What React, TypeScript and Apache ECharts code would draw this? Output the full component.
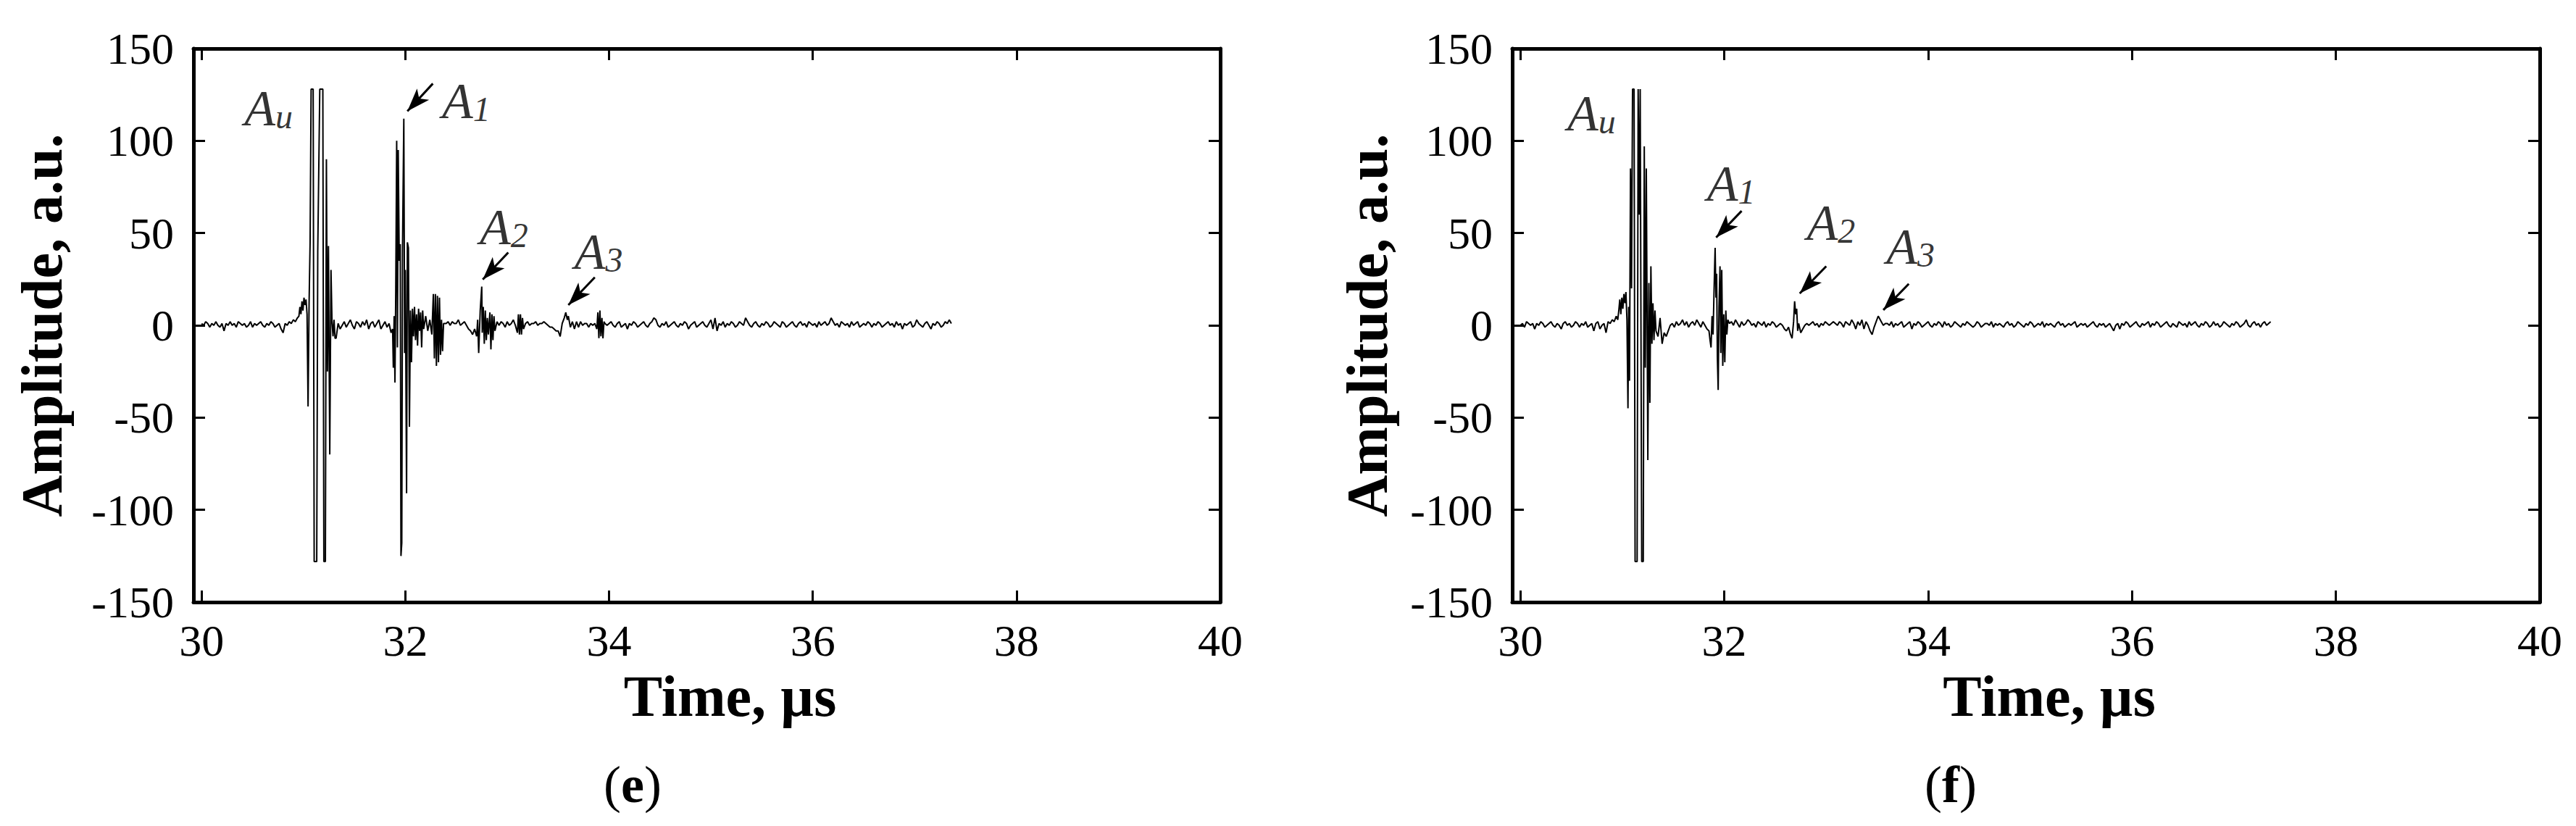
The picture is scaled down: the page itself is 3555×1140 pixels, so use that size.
import React, { useEffect, useRef } from 'react';
import * as echarts from 'echarts';

// ---------- axes ----------
const TIME_MIN = 29.92;
const TIME_MAX = 40;
const timeTicks = [30, 32, 34, 36, 38, 40];
const AMP_MIN = -150;
const AMP_MAX = 150;
const AMP_STEP = 50;
const SAMPLE_STEP = 0.02; // µs, spacing of the quiet (noise) stretches

// ---------- panel (e) ----------
const eLeadStart = 30.0;
const eLead = [1, 0, 2, 1, -1, 1, 0, 2, 0, -1, 1, -3, 1, 0, 2, 0, 1, -1, 2, 1, 0, 1, -1, 0, 2, -1, 1, 0, 1, 2, 0, -1, 1, 0, 2, 1, -1, 0, 1, -2, -4, 1, 0, 2, 1, 3, 2, 4];
const eAu: [number, number][] = [
  [30.955, 5], [30.965, 10], [30.975, 6], [30.985, 13], [30.995, 8], [31.005, 15], [31.015, 11], [31.025, 14], [31.035, 6],
  [31.045, -44], [31.055, 12], [31.065, 45], [31.075, 128], [31.095, 128], [31.105, -128], [31.13, -128], [31.14, 40],
  [31.16, 128], [31.19, 128], [31.2, -128], [31.215, -128], [31.225, 90], [31.235, -25], [31.245, 43], [31.258, -70],
  [31.27, 30], [31.28, 2], [31.29, -6], [31.3, 3], [31.31, -7], [31.32, -7], [31.33, -3], [31.34, 1],
];
const eGap1Start = 31.36;
const eGap1 = [-2, 0, 2, -1, 1, 3, 0, -2, 2, 1, -1, 2, 0, 3, -2, 1, 2, -1, 1, 3, -2, 0, 2, -1, 1, -4];
const eA1: [number, number][] = [
  [31.875, -2], [31.882, -23], [31.89, 5], [31.898, -31], [31.906, 20], [31.915, 100], [31.922, -12], [31.93, 95],
  [31.94, 35], [31.95, 44], [31.957, -125], [31.965, -118], [31.972, 40], [31.985, 112], [31.993, -15], [32.0, 30],
  [32.012, -91], [32.02, 45], [32.03, 42], [32.04, -55], [32.05, 8], [32.06, -20], [32.07, 9], [32.08, -6], [32.09, 10],
  [32.1, -8], [32.11, 6], [32.12, -11], [32.13, 9], [32.14, -3], [32.15, 7], [32.16, -12], [32.17, 8], [32.18, -2],
  [32.2, 5], [32.22, -3], [32.24, 3], [32.26, -5], [32.275, 17], [32.285, -18], [32.295, 17], [32.305, -22],
  [32.315, 16], [32.325, -20], [32.335, 15], [32.345, -16], [32.355, 3], [32.365, -14], [32.375, 1],
];
const eGap2Start = 32.4;
const eGap2 = [1, 2, 0, 2, 1, 1, 3, 0, 1, 2, 0, -2, -3, -5, -2];
const eA2: [number, number][] = [
  [32.7, -6], [32.71, 3], [32.72, -15], [32.735, 8], [32.75, 21], [32.755, -4], [32.765, 10], [32.775, -10],
  [32.785, 8], [32.795, -8], [32.805, 4], [32.815, -5], [32.83, 7], [32.84, -13], [32.85, 6], [32.86, -8],
  [32.87, 5], [32.88, -3], [32.9, 2], [32.92, 0],
];
const eGap3Start = 32.94;
const eGap3 = [2, 1, -1, 2, 0, 1, 3, 0];
const eA3: [number, number][] = [
  [33.1, -4], [33.11, 6], [33.12, -5], [33.13, 6], [33.14, -5], [33.15, 4], [33.16, -2], [33.18, 1], [33.2, 2],
  [33.22, 0], [33.24, 1], [33.26, 1], [33.28, 2], [33.3, 0], [33.32, 1], [33.34, 1], [33.36, 2], [33.38, 1],
  [33.4, 0], [33.42, -1], [33.44, -1], [33.46, -2], [33.48, -3], [33.5, -3], [33.52, -6], [33.54, 1], [33.56, 4],
  [33.575, 7], [33.59, 3], [33.6, 5], [33.62, -1], [33.64, 2], [33.66, -2], [33.68, 2], [33.7, -1], [33.72, 2],
  [33.74, 0], [33.76, 1], [33.78, 1], [33.8, -1], [33.82, 1], [33.84, 0], [33.86, 1], [33.88, -2], [33.89, 7],
  [33.9, -7], [33.91, 8], [33.92, -6], [33.93, 4], [33.94, -7], [33.95, 2], [33.96, 1], [33.98, 0], [34.0, 1],
];
const eTailStart = 34.02;
const eTail = [
  2, 0, -1, 1, 2, -1, 0, 1, -2, 1,
  0, 2, 1, -1, 0, 1, 2, 0, -1, 1,
  2, 4, 3, 0, -1, 1, 0, 2, -1, 0,
  1, 2, 0, -1, 1, 0, 2, 1, -2, 0,
  1, 2, -1, 0, 1, 2, 0, -1, 1, 3,
  -2, 4, -3, 1, 0, 2, -1, 1, 0, 2,
  1, -1, 0, 2, 1, 0, 4, 2, 0, -1,
  1, 2, 0, -1, 1, 0, 2, 1, -1, 0,
  2, 1, 0, -1, 2, 1, -1, 0, 1, 2,
  0, -1, 1, 2, 0, 1, -1, 2, 1, 0,
  1, -1, 2, 0, 1, 2, 0, 1, 4, 2,
  0, 1, -1, 2, 1, 0, 1, -1, 2, 0,
  1, 2, -1, 0, 1, 0, 2, 1, -1, 1,
  0, 2, 1, -1, 0, 1, 2, 0, 1, -1,
  2, 0, 1, -2, 1, 0, 1, 2, -1, 0,
  3, 1, 0, -1, 1, 2, 0, -2, 1, 0,
  2, 1, -1, 0, 2, 1, 3, 1,
];

// ---------- panel (f) ----------
const fLeadStart = 30.0;
const fLead = [0, 1, -1, 2, 1, 0, 1, -2, 1, 0, 2, 1, -1, 0, 1, 2, 0, -1, 1, 0, -2, 1, 2, 0, 1, -1, 0, 2, 1, -1, 1, 0, 2, -1, 0, 1, -3, 1, 2, -2, 0, 1, -4, 2, 1, 3, 2, 5];
const fAu: [number, number][] = [
  [30.955, 3], [30.965, 8], [30.975, 14], [30.985, 6], [30.995, 15], [31.005, 9], [31.015, 17], [31.025, 12],
  [31.035, 18], [31.045, 3], [31.055, -45], [31.062, 10], [31.07, -30], [31.08, 85], [31.09, 20], [31.1, 128],
  [31.115, 128], [31.125, -128], [31.145, -128], [31.155, 128], [31.165, 60], [31.175, 128], [31.19, -128],
  [31.205, -128], [31.215, 97], [31.225, -23], [31.235, 85], [31.25, -73], [31.26, 23], [31.27, -42], [31.28, 32],
  [31.29, -10], [31.3, 12], [31.31, -8], [31.32, 8], [31.33, -3], [31.35, -6], [31.37, 4], [31.39, -10], [31.41, -4], [31.43, -6],
];
const fGap1Start = 31.45;
const fGap1 = [-3, 0, 1, -1, 2, 0, 1, 3, 0, 2, -1, 1, 2, 0, 3, 1, -1, 2, 0, -2];
const fA1: [number, number][] = [
  [31.85, -3], [31.86, -8], [31.87, -12], [31.88, 5], [31.89, -5], [31.9, 20], [31.91, 42], [31.918, 15],
  [31.925, 28], [31.932, -17], [31.94, -35], [31.948, 10], [31.958, 32], [31.966, -15], [31.975, 30],
  [31.985, -22], [31.995, 6], [32.005, -20], [32.015, 8], [32.025, -5], [32.035, 3], [32.05, 1],
];
const fGap2Start = 32.07;
const fGap2 = [2, 0, 3, 1, -1, 2, 0, 1, 3, 2, 0, 1, -1, 2, 1, 0, 2, -1, 1, 0, 2, 1, -1, 0, 1, 0, -2, -3, -1];
const fA2: [number, number][] = [
  [32.65, -5], [32.665, -7], [32.68, 2], [32.69, 13], [32.7, 6], [32.71, 9], [32.72, -3], [32.73, 1],
  [32.75, -4], [32.77, -2], [32.79, 0],
];
const fGap3Start = 32.81;
const fGap3 = [1, 0, 1, 2, 0, 1, -1, 1, 0, 2, 1, 0, 1, 2, 1, 0, 2, 1, -1, 2, 1, 0, 3, 1, -2, 2, 0, 3, -2, 2, 0];
const fA3: [number, number][] = [
  [33.43, -3], [33.45, -5], [33.47, -1], [33.49, 2], [33.51, 5], [33.52, 4], [33.54, 2], [33.56, 0], [33.58, 1],
];
const fTailStart = 33.6;
const fTail = [
  1, 0, 2, -1, 1, 0, 1, 2, -1, 0,
  1, 2, -2, 1, 0, 2, 1, -1, 0, 1,
  2, 0, -1, 1, 0, 2, 1, -1, 2, 0,
  1, -1, 0, 2, 1, 0, -1, 1, 0, 2,
  1, 0, -1, 0, 2, 1, -1, 0, 1, 1,
  0, 2, -1, 1, 0, 1, 0, -1, 1, 2,
  0, 1, -1, 0, 2, 1, 0, -1, 1, 0,
  2, 1, -1, 0, 1, 0, 2, -1, 1, 0,
  1, 0, -1, 1, 2, 0, 1, -1, 0, 1,
  0, 1, 2, -1, 0, 1, 0, 1, -1, 0,
  1, 2, 0, -1, 1, 0, 1, -1, 0, 1,
  -1, -3, 0, 1, -2, 1, 0, 2, 1, -1,
  0, 1, 2, 0, -1, 1, 0, 1, 2, -1,
  1, 0, 2, 1, -1, 0, 1, 2, 0, -1,
  1, 0, -1, 2, 1, 0, 1, -1, 2, 0,
  1, 2, 0, -1, 1, 0, 2, 1, -1, 0,
  2, 0, 1, -1, 0, 2, 1, 0, -1, 1,
  0, 2, 1, -1, 0, 1, 3, 0, -1, 1,
  2, 0, 1, -1, 1, 2, 0, 1, 2,
];

// ---------- annotations ----------
const echoSubscripts = ['u', '1', '2', '3'];
const eLabelAnchors: [number, number][] = [[30.42, 123], [32.36, 127], [32.73, 58.5], [33.66, 45]];
const fLabelAnchors: [number, number][] = [[30.46, 120], [31.83, 82], [32.81, 61], [33.59, 48]];
// arrows: [tail, tip]
const eArrows: [[number, number], [number, number]][] = [
  [[32.27, 131], [32.02, 116]],
  [[33.01, 39.5], [32.76, 24.8]],
  [[33.86, 26], [33.6, 11]],
];
const fArrows: [[number, number], [number, number]][] = [
  [[32.17, 62], [31.92, 47.6]],
  [[33.0, 32], [32.74, 17.3]],
  [[33.81, 22.5], [33.56, 8.3]],
];
const panelCaptions = ['e', 'f'];

// ---------- build ----------
const sampled = (start: number, vals: number[]): [number, number][] =>
  vals.map((v, i) => [Number((start + i * SAMPLE_STEP).toFixed(3)), v]);

const waveE: [number, number][] = [
  ...sampled(eLeadStart, eLead), ...eAu, ...sampled(eGap1Start, eGap1), ...eA1,
  ...sampled(eGap2Start, eGap2), ...eA2, ...sampled(eGap3Start, eGap3), ...eA3, ...sampled(eTailStart, eTail),
];
const waveF: [number, number][] = [
  ...sampled(fLeadStart, fLead), ...fAu, ...sampled(fGap1Start, fGap1), ...fA1,
  ...sampled(fGap2Start, fGap2), ...fA2, ...sampled(fGap3Start, fGap3), ...fA3, ...sampled(fTailStart, fTail),
];

const FONT = "'Liberation Serif', 'Times New Roman', serif";
const BLACK = '#000';

const grids = [
  { left: 267, top: 67, width: 1417, height: 764 },
  { left: 2087, top: 67, width: 1418, height: 764 },
];
const yNameGaps = [169, 160];

function xAxes(gridIndex: number) {
  const common = {
    type: 'value',
    gridIndex,
    min: TIME_MIN,
    max: TIME_MAX,
    splitLine: { show: false },
    axisLine: { show: true, onZero: false, lineStyle: { color: BLACK, width: 5 } },
    axisTick: { show: true, inside: true, length: 16, customValues: timeTicks, lineStyle: { color: BLACK, width: 3 } },
  };
  return [
    {
      ...common,
      position: 'bottom',
      name: 'Time, µs',
      nameLocation: 'middle',
      nameGap: 90,
      nameTextStyle: { fontFamily: FONT, fontSize: 80, fontWeight: 'bold', color: BLACK, padding: [0, 0, 0, 64] },
      axisLabel: { show: true, customValues: timeTicks, margin: 22, fontFamily: FONT, fontSize: 62, color: BLACK },
    },
    { ...common, position: 'top', axisLabel: { show: false } },
  ];
}

function yAxes(gridIndex: number) {
  const common = {
    type: 'value',
    gridIndex,
    min: AMP_MIN,
    max: AMP_MAX,
    interval: AMP_STEP,
    splitLine: { show: false },
    axisLine: { show: true, onZero: false, lineStyle: { color: BLACK, width: 5 } },
    axisTick: { show: true, inside: true, length: 16, lineStyle: { color: BLACK, width: 3 } },
  };
  return [
    {
      ...common,
      position: 'left',
      name: 'Amplitude, a.u.',
      nameLocation: 'middle',
      nameRotate: 90,
      nameGap: yNameGaps[gridIndex],
      nameTextStyle: { fontFamily: FONT, fontSize: 80, fontWeight: 'bold', color: BLACK },
      axisLabel: { show: true, margin: 27, fontFamily: FONT, fontSize: 62, color: BLACK },
    },
    { ...common, position: 'right', axisLabel: { show: false } },
  ];
}

const labelRich = {
  a: { fontFamily: FONT, fontStyle: 'italic', fontSize: 70, lineHeight: 97, verticalAlign: 'bottom', color: BLACK },
  s: { fontFamily: FONT, fontStyle: 'italic', fontSize: 48, lineHeight: 48, verticalAlign: 'bottom', color: BLACK },
};

function panelSeries(idx: number, wave: [number, number][], anchors: [number, number][], arrows: [[number, number], [number, number]][]) {
  const xi = idx * 2;
  const yi = idx * 2;
  return [
    {
      type: 'line',
      xAxisIndex: xi,
      yAxisIndex: yi,
      data: wave,
      showSymbol: false,
      symbol: 'none',
      lineStyle: { color: BLACK, width: 2 },
      clip: true,
      silent: true,
    },
    {
      type: 'scatter',
      xAxisIndex: xi,
      yAxisIndex: yi,
      symbolSize: 0,
      silent: true,
      data: anchors.map((p, i) => ({ value: p, name: echoSubscripts[i] })),
      label: {
        show: true,
        position: 'right',
        distance: 0,
        formatter: (p: any) => `{a|A}{s|${p.name}}`,
        rich: labelRich,
      },
      markLine: {
        silent: true,
        symbol: ['none', 'arrow'],
        symbolSize: [17, 32],
        label: { show: false },
        lineStyle: { color: BLACK, width: 3, type: 'solid' },
        data: arrows.map(([a, b]) => [{ coord: a }, { coord: b }]),
      },
    },
  ];
}

const captionCenters = [
  { x: 873, y: 1083 },
  { x: 2692, y: 1083 },
];

const option = {
  animation: false,
  backgroundColor: '#fff',
  grid: grids.map((g) => ({ ...g, containLabel: false, outerBoundsMode: 'none' })),
  xAxis: [...xAxes(0), ...xAxes(1)],
  yAxis: [...yAxes(0), ...yAxes(1)],
  series: [...panelSeries(0, waveE, eLabelAnchors, eArrows), ...panelSeries(1, waveF, fLabelAnchors, fArrows)],
  graphic: captionCenters.map((c, i) => ({
    type: 'text',
    x: c.x,
    y: c.y,
    silent: true,
    style: {
      text: `{p|(}{b|${panelCaptions[i]}}{p|)}`,
      align: 'center',
      verticalAlign: 'middle',
      rich: {
        p: { fontFamily: FONT, fontSize: 72, fill: BLACK, color: BLACK },
        b: { fontFamily: FONT, fontSize: 72, fontWeight: 'bold', fill: BLACK, color: BLACK },
      },
    },
  })),
};

export default function App() {
  const ref = useRef<HTMLDivElement>(null);
  useEffect(() => {
    document.body.style.margin = '0';
    const chart = echarts.init(ref.current as HTMLDivElement, null, { renderer: 'svg' });
    chart.setOption(option as any);
    return () => chart.dispose();
  }, []);
  return <div ref={ref} style={{ width: 3555, height: 1140 }} />;
}
